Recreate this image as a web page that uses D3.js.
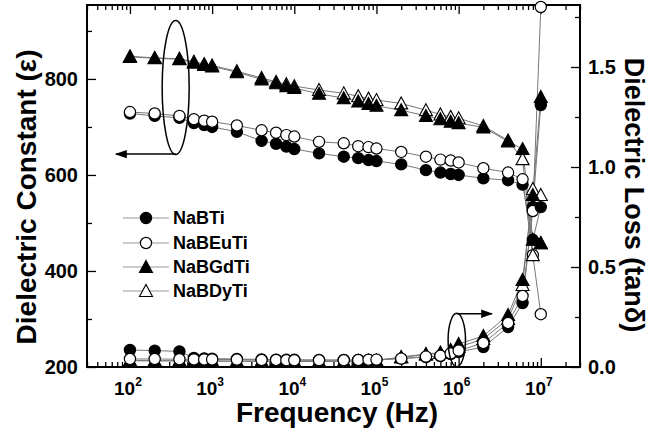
<!DOCTYPE html>
<html>
<head>
<meta charset="utf-8">
<script src="https://cdn.jsdelivr.net/npm/d3@7"></script>
<style>
  body { margin: 0; background: #fff; }
  svg { font-family: "Liberation Sans", Arial, sans-serif; font-weight: bold; }
</style>
</head>
<body>
<div id="chart"></div>
<script>
// Frequencies (Hz)
const freq = [1e2, 2e2, 4e2, 6e2, 8e2, 1e3, 2e3, 4e3, 6e3, 8e3, 1e4, 2e4, 4e4, 6e4, 8e4,
              1e5, 2e5, 4e5, 6e5, 8e5, 1e6, 2e6, 4e6, 6e6, 8e6, 1e7];

// Dielectric constant (left axis)
const epsNaBTi   = [728, 723, 719, 708, 704, 700, 690, 671, 665, 659, 654, 645, 638, 635, 631,
                    629, 622, 610, 605, 602, 600, 593, 589, 580, 465, 533];
const epsNaBEuTi = [731, 728, 723, 716, 713, 711, 703, 693, 688, 683, 680, 669, 666, 660, 658,
                    655, 648, 638, 632, 630, 626, 614, 605, 591, 433, 310];
const epsNaBGdTi = [846, 843, 841, 834, 829, 826, 814, 799, 791, 785, 781, 769, 760, 753, 748,
                    744, 735, 723, 716, 711, 708, 699, 670, 654, 465, 458];
const epsNaBDyTi = [847, 844, 842, 836, 831, 828, 816, 802, 794, 789, 785, 777, 770, 764, 759,
                    756, 749, 735, 726, 721, 718, 702, 672, 633, 433, 458];

// Dielectric loss tan(delta) (right axis)
const lossNaBTi   = [0.085, 0.082, 0.078, 0.045, 0.043, 0.042, 0.040, 0.038, 0.037, 0.036, 0.036, 0.035, 0.035, 0.035, 0.035,
                     0.036, 0.042, 0.050, 0.055, 0.065, 0.075, 0.100, 0.200, 0.320, 0.800, 1.310];
const lossNaBEuTi = [0.040, 0.040, 0.039, 0.038, 0.038, 0.038, 0.037, 0.035, 0.035, 0.034, 0.034, 0.034, 0.034, 0.035, 0.036,
                     0.037, 0.042, 0.052, 0.056, 0.068, 0.082, 0.120, 0.220, 0.355, 0.780, 1.800];
const lossNaBGdTi = [0.032, 0.031, 0.031, 0.030, 0.030, 0.030, 0.029, 0.029, 0.028, 0.028, 0.028, 0.028, 0.028, 0.029, 0.030,
                     0.032, 0.050, 0.065, 0.072, 0.085, 0.115, 0.155, 0.260, 0.435, 0.860, 1.350];
const lossNaBDyTi = [0.032, 0.031, 0.031, 0.030, 0.030, 0.030, 0.029, 0.029, 0.028, 0.028, 0.028, 0.028, 0.028, 0.029, 0.030,
                     0.032, 0.048, 0.062, 0.070, 0.082, 0.100, 0.140, 0.240, 0.410, 0.890, 0.860];

const seriesNames = ['NaBTi', 'NaBEuTi', 'NaBGdTi', 'NaBDyTi'];
const xMajor = [1e2, 1e3, 1e4, 1e5, 1e6, 1e7];
const xExp = ['2', '3', '4', '5', '6', '7'];
const yLeftTicks = [200, 400, 600, 800];
const yRightTicks = [0.0, 0.5, 1.0, 1.5];

const width = 649, height = 434;
const plot = { left: 87, right: 580, top: 5, bottom: 367 };

const svg = d3.select('#chart').append('svg')
    .attr('width', width)
    .attr('height', height);

// Scales
const x = d3.scaleLog().domain([30, 3e7]).range([plot.left, plot.right]);
const yL = d3.scaleLinear().domain([200, 954]).range([plot.bottom, plot.top]);
const yR = d3.scaleLinear().domain([0, 1.81]).range([plot.bottom, plot.top]);

// Minor tick values
const xMinor = [];
for (let e = 1; e <= 7; e++) {
    for (let m = 2; m <= 9; m++) {
        const v = m * Math.pow(10, e);
        if (v >= 30 && v <= 3e7) xMinor.push(v);
    }
}
const yLMinor = [300, 500, 700, 900];
const yRMinor = [0.25, 0.75, 1.25, 1.75];

function tickAxis(axis, values, size) {
    return axis.tickValues(values).tickSizeInner(-size).tickSizeOuter(0).tickFormat('');
}

const axes = [
    [d3.axisBottom(x), xMajor, 9, `translate(0,${plot.bottom})`],
    [d3.axisBottom(x), xMinor, 5, `translate(0,${plot.bottom})`],
    [d3.axisTop(x), xMajor, 9, `translate(0,${plot.top})`],
    [d3.axisTop(x), xMinor, 5, `translate(0,${plot.top})`],
    [d3.axisLeft(yL), yLeftTicks, 9, `translate(${plot.left},0)`],
    [d3.axisLeft(yL), yLMinor, 5, `translate(${plot.left},0)`],
    [d3.axisRight(yR), yRightTicks, 9, `translate(${plot.right},0)`],
    [d3.axisRight(yR), yRMinor, 5, `translate(${plot.right},0)`]
];
axes.forEach(([axis, vals, size, tr]) => {
    const g = svg.append('g').attr('transform', tr).call(tickAxis(axis, vals, size));
    g.select('.domain').remove();
    g.selectAll('.tick line').attr('stroke', '#000').attr('stroke-width', 1.3);
});

// Frame
svg.append('rect')
    .attr('x', plot.left).attr('y', plot.top)
    .attr('width', plot.right - plot.left).attr('height', plot.bottom - plot.top)
    .attr('fill', 'none').attr('stroke', '#000').attr('stroke-width', 2);

// Tick labels
svg.selectAll('.xlab').data(xMajor).enter().append('text')
    .attr('class', 'xlab')
    .attr('x', d => x(d) - 2)
    .attr('y', 395)
    .attr('text-anchor', 'middle')
    .style('font-size', '19px')
    .each(function (d, i) {
        const t = d3.select(this);
        t.append('tspan').text('10');
        t.append('tspan').attr('dy', -9).style('font-size', '12px').text(xExp[i]);
    });

svg.selectAll('.ylab').data(yLeftTicks).enter().append('text')
    .attr('x', 78).attr('y', d => yL(d)).attr('dy', '0.36em')
    .attr('text-anchor', 'end').style('font-size', '20px')
    .text(d => d);

svg.selectAll('.yrlab').data(yRightTicks).enter().append('text')
    .attr('x', 588).attr('y', d => yR(d)).attr('dy', '0.36em')
    .attr('text-anchor', 'start').style('font-size', '20px')
    .text(d => d.toFixed(1));

// Axis titles
svg.append('text')
    .attr('x', 337).attr('y', 422)
    .attr('text-anchor', 'middle').style('font-size', '28px')
    .text('Frequency (Hz)');

svg.append('text')
    .attr('transform', 'translate(36,197) rotate(-90)')
    .attr('text-anchor', 'middle').style('font-size', '28px')
    .text('Dielectric Constant (ε)');

svg.append('text')
    .attr('transform', 'translate(625,195) rotate(90)')
    .attr('text-anchor', 'middle').style('font-size', '27px')
    .text('Dielectric Loss (tanδ)');

// Markers
const triPath = 'M0,-6.5L6.5,5.5L-6.5,5.5Z';
const styles = {
    NaBTi:   { shape: 'circle', fill: '#000' },
    NaBEuTi: { shape: 'circle', fill: '#fff' },
    NaBGdTi: { shape: 'tri', fill: '#000' },
    NaBDyTi: { shape: 'tri', fill: '#fff' }
};

function drawMarker(g, name, px, py) {
    const s = styles[name];
    if (s.shape === 'circle') {
        g.append('circle').attr('cx', px).attr('cy', py).attr('r', 5.6)
            .attr('fill', s.fill).attr('stroke', '#000').attr('stroke-width', 1.2);
    } else {
        g.append('path').attr('d', triPath).attr('transform', `translate(${px},${py})`)
            .attr('fill', s.fill).attr('stroke', '#000').attr('stroke-width', 1.1);
    }
}

const epsData = { NaBTi: epsNaBTi, NaBEuTi: epsNaBEuTi, NaBGdTi: epsNaBGdTi, NaBDyTi: epsNaBDyTi };
const lossData = { NaBTi: lossNaBTi, NaBEuTi: lossNaBEuTi, NaBGdTi: lossNaBGdTi, NaBDyTi: lossNaBDyTi };

const lineGen = (ys) => d3.line().x((d, i) => x(freq[i])).y(d => ys(d));

const lineLayer = svg.append('g');
const markLayer = svg.append('g');

seriesNames.forEach(name => {
    lineLayer.append('path').datum(epsData[name])
        .attr('d', lineGen(yL)).attr('fill', 'none')
        .attr('stroke', '#777').attr('stroke-width', 1);
    lineLayer.append('path').datum(lossData[name])
        .attr('d', lineGen(yR)).attr('fill', 'none')
        .attr('stroke', '#777').attr('stroke-width', 1);
});

// loss: triangles behind circles
['NaBDyTi', 'NaBGdTi', 'NaBTi', 'NaBEuTi'].forEach(name => {
    lossData[name].forEach((v, i) => drawMarker(markLayer, name, x(freq[i]), yR(v)));
});
// constant
['NaBTi', 'NaBEuTi', 'NaBDyTi', 'NaBGdTi'].forEach(name => {
    epsData[name].forEach((v, i) => drawMarker(markLayer, name, x(freq[i]), yL(v)));
});

// Legend
const legendY = [218, 243, 267, 291];
seriesNames.forEach((name, i) => {
    const g = svg.append('g');
    g.append('line').attr('x1', 123).attr('x2', 169).attr('y1', legendY[i]).attr('y2', legendY[i])
        .attr('stroke', '#999').attr('stroke-width', 1);
    drawMarker(g, name, 146, legendY[i]);
    g.append('text').attr('x', 173).attr('y', legendY[i]).attr('dy', '0.36em')
        .style('font-size', '18px').text(name);
});

// Annotations: ellipses with arrows
svg.append('defs').append('marker')
    .attr('id', 'arrow').attr('viewBox', '0 0 10 10')
    .attr('refX', 9).attr('refY', 5)
    .attr('markerWidth', 8).attr('markerHeight', 8)
    .attr('orient', 'auto-start-reverse')
    .append('path').attr('d', 'M0,1.5L10,5L0,8.5Z').attr('fill', '#000');

const ellL = { cx: x(360), cy: yL(782), rx: 13.5, ry: 67 };
svg.append('ellipse').attr('cx', ellL.cx).attr('cy', ellL.cy).attr('rx', ellL.rx).attr('ry', ellL.ry)
    .attr('fill', 'none').attr('stroke', '#000').attr('stroke-width', 1.5);
svg.append('line')
    .attr('x1', ellL.cx).attr('y1', ellL.cy + ellL.ry - 0.5)
    .attr('x2', 116).attr('y2', ellL.cy + ellL.ry - 0.5)
    .attr('stroke', '#000').attr('stroke-width', 1.5).attr('marker-end', 'url(#arrow)');

const ellR = { cx: x(9.5e5), cy: yR(0.135), rx: 8.7, ry: 26.7 };
svg.append('ellipse').attr('cx', ellR.cx).attr('cy', ellR.cy).attr('rx', ellR.rx).attr('ry', ellR.ry)
    .attr('fill', 'none').attr('stroke', '#000').attr('stroke-width', 1.5);
svg.append('line')
    .attr('x1', ellR.cx).attr('y1', ellR.cy - ellR.ry + 0.5)
    .attr('x2', 492).attr('y2', ellR.cy - ellR.ry + 0.5)
    .attr('stroke', '#000').attr('stroke-width', 1.5).attr('marker-end', 'url(#arrow)');
</script>
</body>
</html>
